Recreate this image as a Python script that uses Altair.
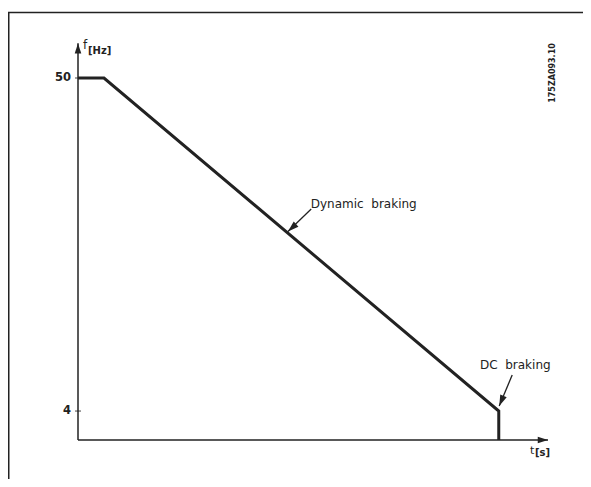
import altair as alt
import pandas as pd

# Frequency profile
line_t = [0, 0.58, 9.4, 9.4]
line_f = [50, 50, 4, 0]

# Y ticks
tick_f = [4, 50]
tick_labels = ["4", "50"]

# Annotations
ann_text = ["Dynamic\u00a0\u00a0braking", "DC\u00a0\u00a0braking"]
ann_t = [5.2, 8.98]
ann_f = [32.6, 10.3]
arrow_t0 = [5.21, 9.70]
arrow_f0 = [31.9, 8.98]
arrow_t1 = [4.69, 9.41]
arrow_f1 = [28.8, 4.7]
arrow_angle = [228, 203]

# Axis extents
t_max = 10.5
f_max = 54.8

xs = alt.Scale(domain=[0, t_max], range=[70, 540])
ys = alt.Scale(domain=[0, 50], range=[432, 70])
INK = "#222222"
FONT = "DejaVu Sans"
ARROW = "M0,0L-0.32,1L0.32,1Z"

line_df = pd.DataFrame({"t": line_t, "f": line_f}).reset_index()
tick_df = pd.DataFrame({"t": [0, 0], "f": tick_f, "label": tick_labels})
ann_df = pd.DataFrame({"t": ann_t, "f": ann_f, "text": ann_text})
arr_df = pd.DataFrame({"t0": arrow_t0, "f0": arrow_f0, "t1": arrow_t1,
                       "f1": arrow_f1, "angle": arrow_angle})
axis_df = pd.DataFrame({"t0": [0, 0], "f0": [0, 0], "t1": [0, t_max],
                        "f1": [f_max, 0], "angle": [0, 90]})

X = lambda f: alt.X(f, type="quantitative", scale=xs, axis=None)
Y = lambda f: alt.Y(f, type="quantitative", scale=ys, axis=None)

one = pd.DataFrame({"a": [0]})
frame_top = alt.Chart(one).mark_rule(color=INK, strokeWidth=1.5).encode(
    x=alt.value(0), x2=alt.value(575), y=alt.value(4.5))
frame_left = alt.Chart(one).mark_rule(color=INK, strokeWidth=1.5).encode(
    x=alt.value(0.75), y=alt.value(4), y2=alt.value(471))

axes = alt.Chart(axis_df).mark_rule(color=INK, strokeWidth=1.5).encode(
    x=X("t0"), y=Y("f0"), x2="t1", y2="f1")
axis_heads = alt.Chart(axis_df).mark_point(
    shape=ARROW, size=420, filled=True, color=INK, opacity=1,
    strokeWidth=0).encode(
    x=X("t1"), y=Y("f1"), angle=alt.Angle("angle:Q", scale=None))

ticks = alt.Chart(tick_df).mark_tick(
    orient="horizontal", size=6, thickness=1.2, color=INK).encode(
    x=X("t"), y=Y("f"))
tick_text = alt.Chart(tick_df).mark_text(
    align="right", baseline="middle", dx=-7, font=FONT, fontSize=11.5,
    fontWeight="bold", color=INK).encode(
    x=X("t"), y=Y("f"), text="label:N")

profile = alt.Chart(line_df).mark_line(
    color=INK, strokeWidth=3, strokeJoin="miter").encode(
    x=X("t"), y=Y("f"), order="index:Q")

ann = alt.Chart(ann_df).mark_text(
    align="left", baseline="middle", font=FONT, fontSize=12,
    color=INK).encode(x=X("t"), y=Y("f"), text="text:N")
arr_lines = alt.Chart(arr_df).mark_rule(color=INK, strokeWidth=1.3).encode(
    x=X("t0"), y=Y("f0"), x2="t1", y2="f1")
arr_heads = alt.Chart(arr_df).mark_point(
    shape=ARROW, size=480, filled=True, color=INK, opacity=1,
    strokeWidth=0).encode(
    x=X("t1"), y=Y("f1"), angle=alt.Angle("angle:Q", scale=None))

fpos = pd.DataFrame({"t": [0], "f": [f_max]})
tpos = pd.DataFrame({"t": [t_max], "f": [0]})
f_lab = alt.Chart(fpos).mark_text(
    align="left", baseline="top", dx=5, dy=-3, font=FONT, fontSize=12,
    color=INK).encode(x=X("t"), y=Y("f"), text=alt.value("f"))
hz_lab = alt.Chart(fpos).mark_text(
    align="left", baseline="top", dx=10, dy=3, font=FONT, fontSize=10,
    fontWeight="bold", color=INK).encode(x=X("t"), y=Y("f"), text=alt.value("[Hz]"))
t_lab = alt.Chart(tpos).mark_text(
    align="left", baseline="top", dx=-18, dy=5, font=FONT, fontSize=11,
    color=INK).encode(x=X("t"), y=Y("f"), text=alt.value("t"))
s_lab = alt.Chart(tpos).mark_text(
    align="left", baseline="top", dx=-13, dy=8, font=FONT, fontSize=10,
    fontWeight="bold", color=INK).encode(x=X("t"), y=Y("f"), text=alt.value("[s]"))

code = alt.Chart(one).mark_text(
    angle=270, align="center", baseline="middle", font=FONT, fontSize=8,
    fontWeight="bold", color=INK).encode(
    x=alt.value(545), y=alt.value(65), text=alt.value("175ZA093.10"))

chart = alt.layer(
    frame_top, frame_left, axes, axis_heads, ticks, tick_text, profile,
    arr_lines, arr_heads, ann, f_lab, hz_lab, t_lab, s_lab, code
).properties(
    width=575, height=471, padding=0,
    autosize=alt.AutoSizeParams(type="none"),
    background="white"
).configure_view(stroke=None)

chart.save("out.html", embed_options={"renderer": "svg", "actions": False})
